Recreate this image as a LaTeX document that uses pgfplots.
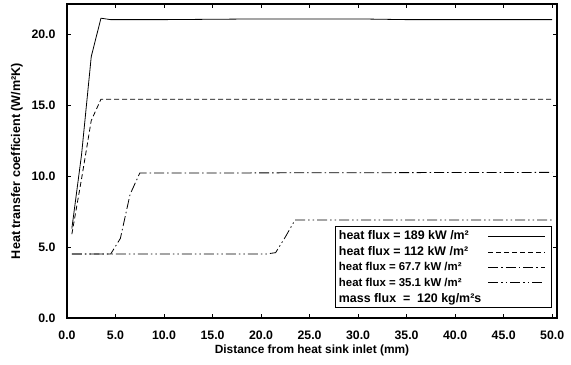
\documentclass[border=0pt]{standalone}
\usepackage{fontspec}
\setmainfont{Liberation Sans}
\usepackage{pgfplots}
\pgfplotsset{compat=1.18}
\begin{document}
\begin{tikzpicture}
\begin{axis}[
  scale only axis,
  width=490pt, height=314pt,
  xmin=0, xmax=50.5, ymin=0, ymax=22.1,
  xtick={0,5,...,50}, ytick={0,5,10,15,20},
  tick align=inside,
  major tick length=4pt,
  axis line style={line width=1.6pt},
  every tick/.style={black, line width=0.6pt},
  /pgf/number format/assume math mode=true,
  /pgf/number format/fixed,
  /pgf/number format/fixed zerofill,
  /pgf/number format/precision=1,
  ticklabel style={font=\fontsize{12.3}{14}\selectfont\bfseries},
  xticklabel style={yshift=-9.5pt},
  yticklabel style={xshift=-8pt},
  xlabel={Distance from heat sink inlet (mm)},
  ylabel={Heat transfer coefficient (W/m²K)},
  xlabel style={font=\fontsize{11.9}{13}\selectfont\bfseries, yshift=1.5pt},
  ylabel style={font=\fontsize{12.6}{14}\selectfont\bfseries, yshift=2pt},
  legend plot pos=right,
  legend cell align=left,
  legend image code/.code={\draw[#1] (5pt,0pt) -- (62pt,0pt); \path (66pt,0pt);},
  legend style={at={(1,0)}, anchor=south east, xshift=-5pt, yshift=10pt,
    draw=black, line width=0.6pt, font=\bfseries, row sep=1.5pt,
    inner sep=2pt},
]
\addplot[black, line width=0.8pt] coordinates {
 (0.5,6.3) (1.5,11.5) (2.5,18.4) (3.5,21.1) (4.5,21.0) (10,21.0) (20,21.05) (30,21.05) (35,21.0) (50,21.0)
};
\addlegendentry{\fontsize{12.4}{14}\selectfont heat flux = 189 kW /m²}
\addplot[black, line width=0.8pt, dash pattern=on 5pt off 3pt] coordinates {
 (0.5,5.9) (1.5,9.8) (2.5,13.9) (3.5,15.4) (4.5,15.4) (50,15.4)
};
\addlegendentry{\fontsize{12.4}{14}\selectfont heat flux = 112 kW /m²}
\addplot[black, line width=0.8pt, dash pattern=on 10pt off 3pt on 1.5pt off 3pt] coordinates {
 (0.5,4.5) (4.5,4.5) (5.5,5.6) (6.5,8.7) (7.5,10.2) (8.5,10.2) (50,10.25)
};
\addlegendentry{\fontsize{11.4}{13}\selectfont heat flux = 67.7 kW /m²}
\addplot[black, line width=0.8pt, dash pattern=on 10pt off 3pt on 1.5pt off 3pt on 1.5pt off 3pt] coordinates {
 (0.5,4.5) (20.5,4.5) (21.5,4.6) (22.5,5.7) (23.5,6.9) (24.5,6.9) (50,6.9)
};
\addlegendentry{\fontsize{11.4}{13}\selectfont heat flux = 35.1 kW /m²}
\addlegendimage{empty legend}
\addlegendentry{\fontsize{12.4}{14}\selectfont mass flux \ = \ 120 kg/m²s}
\end{axis}
\pgfresetboundingbox
\path[use as bounding box] (current axis.south west) ++(-67pt,-46pt) rectangle ([shift={(14pt,4pt)}]current axis.north east);
\end{tikzpicture}
\end{document}
